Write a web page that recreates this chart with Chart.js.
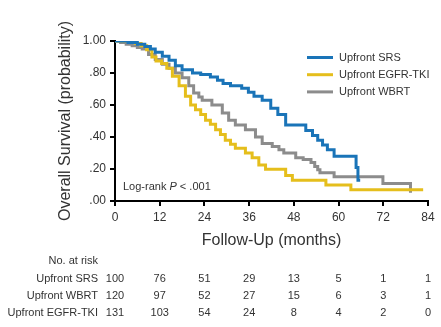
<!DOCTYPE html>
<html>
<head>
<meta charset="utf-8">
<script src="https://cdn.jsdelivr.net/npm/chart.js@4.4.1/dist/chart.umd.min.js"></script>
<style>
  body { margin: 0; background: #fff; }
</style>
</head>
<body>
<canvas id="kmChart" width="441" height="327"></canvas>
<script>
// Kaplan-Meier curves (month of step, survival after step)
const srsMonths = [0, 3.5, 6, 8, 9.5, 10.8, 12.7, 14.5, 16.2, 18, 20.8, 23, 25.6, 27.5, 29, 31, 34, 35.8, 37.3, 39.5, 41.8, 43.7, 45.8, 51.2, 53, 54.4, 55.7, 57, 58.8, 64.7, 65.2, 65.8];
const srsSurvival = [1, .99, .98, .965, .95, .93, .905, .88, .845, .82, .80, .79, .775, .755, .735, .72, .705, .68, .655, .63, .58, .54, .475, .44, .41, .38, .35, .32, .28, .21, .13, .13];

const tkiMonths = [0, 5.5, 7, 8.5, 9.9, 11, 12.5, 13.9, 15.4, 17.2, 18.9, 20.3, 21.6, 23, 24.3, 25.6, 27, 28.3, 29.6, 31, 32.3, 35, 36.8, 38.6, 40.4, 45.8, 47.6, 56.6, 63.3, 82.7];
const tkiSurvival = [1, .985, .97, .945, .90, .875, .86, .83, .78, .72, .655, .60, .57, .54, .505, .48, .445, .415, .38, .355, .33, .30, .27, .225, .198, .16, .13, .10, .07, .07];

const wbrtMonths = [0, 1.5, 3, 4.6, 6, 7.3, 9, 10.8, 12.7, 14.5, 16.2, 18, 19.8, 21.1, 22.5, 23.4, 26, 28.8, 30.5, 32.3, 35, 37.7, 39.5, 42.2, 44, 45.3, 48.5, 50.5, 52.6, 53.6, 54.4, 55, 58.8, 71.9, 79.3];
const wbrtSurvival = [1, .99, .98, .97, .96, .95, .915, .885, .855, .83, .80, .77, .72, .675, .65, .63, .60, .55, .505, .475, .445, .40, .36, .34, .32, .30, .27, .26, .24, .215, .195, .177, .152, .11, .052];

// number at risk table
const riskMonths = [0, 12, 24, 36, 48, 60, 72, 84];
const riskLabels = ["Upfront SRS", "Upfront WBRT", "Upfront EGFR-TKI"];
const riskSRS = [100, 76, 51, 29, 13, 5, 1, 1];
const riskWBRT = [120, 97, 52, 27, 15, 6, 3, 1];
const riskTKI = [131, 103, 54, 24, 8, 4, 2, 0];

const FONT = '"Liberation Sans", Arial, sans-serif';
const TEXT = "#333";

function toPoints(months, surv) {
  return months.map((m, i) => ({ x: m, y: surv[i] }));
}

// legend + log-rank + at risk table, drawn on top
const extrasPlugin = {
  id: "extras",
  afterDraw(chart) {
    const c = chart.ctx;
    const area = chart.chartArea;
    const xs = chart.scales.x;
    c.save();
    c.font = "11px " + FONT;
    c.textBaseline = "middle";

    // legend
    chart.data.datasets.forEach((ds, i) => {
      const y = 57.5 + i * 17.2;
      c.strokeStyle = ds.borderColor;
      c.lineWidth = 3;
      c.beginPath();
      c.moveTo(area.right - 121, y);
      c.lineTo(area.right - 95, y);
      c.stroke();
      c.fillStyle = TEXT;
      c.textAlign = "left";
      c.fillText(ds.label, area.right - 89, y);
    });

    // log-rank
    let lx = area.left + 8;
    const ly = 187;
    c.textAlign = "left";
    c.fillStyle = TEXT;
    c.fillText("Log-rank ", lx, ly);
    lx += c.measureText("Log-rank ").width;
    c.font = "italic 11px " + FONT;
    c.fillText("P", lx, ly);
    lx += c.measureText("P").width;
    c.font = "11px " + FONT;
    c.fillText(" < .001", lx, ly);

    // at risk
    c.textAlign = "right";
    c.fillText("No. at risk", 98, 261);
    [riskSRS, riskWBRT, riskTKI].forEach((row, i) => {
      const y = 278.5 + i * 17.2;
      c.textAlign = "right";
      c.fillText(riskLabels[i], 98, y);
      c.textAlign = "center";
      row.forEach((v, j) => {
        c.fillText(v, xs.getPixelForValue(riskMonths[j]), y);
      });
    });
    c.restore();
  },
};

const ctx = document.getElementById("kmChart");

new Chart(ctx, {
  type: "line",
  data: {
    datasets: [
      {
        label: "Upfront SRS",
        data: toPoints(srsMonths, srsSurvival),
        borderColor: "#1a74b8",
      },
      {
        label: "Upfront EGFR-TKI",
        data: toPoints(tkiMonths, tkiSurvival),
        borderColor: "#e5be1c",
      },
      {
        label: "Upfront WBRT",
        data: toPoints(wbrtMonths, wbrtSurvival),
        borderColor: "#8c8c8c",
      },
    ],
  },
  options: {
    responsive: false,
    animation: false,
    devicePixelRatio: 1,
    layout: { padding: { top: 41, right: 13, left: 0, bottom: 0 } },
    elements: {
      line: { stepped: true, borderWidth: 3, fill: false, tension: 0 },
      point: { radius: 0 },
    },
    plugins: {
      legend: { display: false },
      tooltip: { enabled: false },
    },
    scales: {
      x: {
        type: "linear",
        min: 0,
        max: 84,
        afterFit: (scale) => { scale.height = 126; },
        ticks: { stepSize: 12, color: TEXT, font: { family: FONT, size: 12 }, padding: 4, maxRotation: 0 },
        grid: { drawOnChartArea: false, drawTicks: true, tickLength: 5, color: "#000", lineWidth: 2 },
        border: { display: true, color: "#000", width: 2 },
        title: {
          display: true,
          text: "Follow-Up (months)",
          color: TEXT,
          font: { family: FONT, size: 16 },
          padding: { top: 0, bottom: 77 },
        },
      },
      y: {
        min: 0,
        max: 1,
        afterFit: (scale) => { scale.width = 115; },
        ticks: {
          stepSize: 0.2,
          color: TEXT,
          font: { family: FONT, size: 12 },
          padding: 4,
          callback: (v) => (v >= 1 ? "1.00" : v.toFixed(2).replace(/^0/, "")),
        },
        grid: { drawOnChartArea: false, drawTicks: true, tickLength: 5, color: "#000", lineWidth: 2 },
        border: { display: true, color: "#000", width: 2 },
        title: {
          display: true,
          text: "Overall Survival (probability)",
          color: TEXT,
          font: { family: FONT, size: 16 },
          padding: { top: 56, bottom: 0 },
        },
      },
    },
  },
  plugins: [extrasPlugin],
});
</script>
</body>
</html>
